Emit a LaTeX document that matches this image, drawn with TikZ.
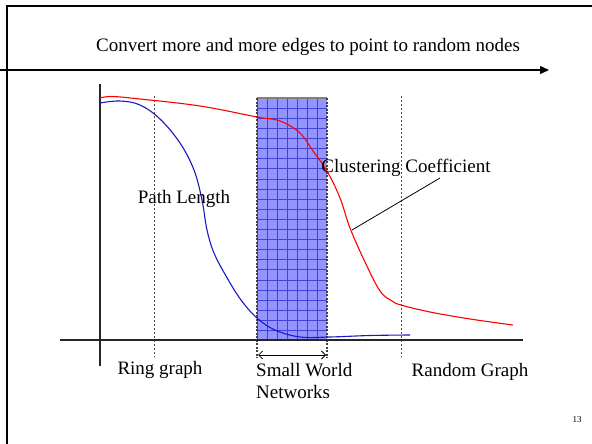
\documentclass[tikz,border=0pt]{standalone}
\usepackage{fontspec}
\setmainfont{Liberation Serif}
\usetikzlibrary{arrows.meta}
\begin{document}
\begin{tikzpicture}[x=1pt,y=-1pt,
  lbl/.style={inner sep=0pt,font=\fontsize{19}{22.5}\selectfont},
  axis/.style={line width=1.6pt,black!85},
  guide/.style={line width=0.8pt,black!70,dash pattern=on 2pt off 2pt},
  boxedge/.style={line width=1.2pt,black!75,dash pattern=on 2pt off 1.5pt},
  curve/.style={line width=1.1pt,smooth,tension=0.6}]
\useasboundingbox (0,0) rectangle (592,444);
\fill[white] (0,0) rectangle (592,444);
% slide frame
\draw[line width=2pt] (592,6) -- (7,6) -- (7,444);
% title and direction arrow
\node[lbl] (title) at (308,47) {Convert more and more edges to point to random nodes};
\coordinate (arrS) at (0,70);
\coordinate (arrE) at (549,70);
\draw[line width=1.3pt,-{Triangle[length=9pt,width=8pt]}] (arrS) -- (arrE);
% small-world region
\coordinate (bTL) at (257,98);
\coordinate (bBR) at (327,340);
\fill[blue!42!white] (bTL) rectangle (bBR);
\begin{scope}
\clip (bTL) rectangle (bBR);
\draw[blue!75!black,line width=0.45pt,opacity=0.55,xshift=257pt,yshift=-98pt] (0,0) grid[step=10.1pt] (70,242);
\end{scope}
\draw[gray,line width=1.2pt] (257,98) -- (327,98);
\draw[boxedge] (257,98) -- (257,358);
\draw[boxedge] (327,98) -- (327,358);
\coordinate (sw1) at (258,355);
\coordinate (sw2) at (326,355);
\draw[line width=0.8pt,{Straight Barb[length=4pt]}-{Straight Barb[length=4pt]}] (sw1) -- (sw2);
% guide lines
\draw[guide] (154,96) -- (154,357);
\draw[guide] (401,96) -- (401,357);
% axes
\coordinate (yTop) at (100,84);
\coordinate (yBot) at (100,366);
\coordinate (xL) at (60,340);
\coordinate (xR) at (523,340);
\draw[axis] (yTop) -- (yBot);
\draw[axis] (xL) -- (xR);
% clustering coefficient
\draw[curve,red] plot coordinates {(100,98) (112,96.5) (140,99) (200,106) (257,117) (280,121) (300,133) (313,151) (327,171) (340,198) (350,228) (365,262) (380,291) (392,301) (401,305) (430,312) (470,319) (513,325)};
% path length
\draw[curve,blue!75!black!90] plot coordinates {(100,103) (120,101) (140,105) (160,119) (180,143) (194,170) (202,200) (207,230) (214,253) (226,276) (241,300) (257,318) (275,330) (300,337) (330,337) (370,335.5) (410,335)};
% labels
\node[lbl] (pl) at (184,199) {Path Length};
\node[lbl] (cc) at (406,168) {Clustering Coefficient};
\coordinate (ccTip) at (352,230);
\draw[line width=0.8pt] (440,178) -- (ccTip);
\node[lbl] (ring) at (160,370) {Ring graph};
\node[lbl,anchor=west,align=left] (sw) at (256,381) {Small World\\Networks};
\node[lbl] (rand) at (470,372) {Random Graph};
\node[inner sep=0pt,font=\fontsize{9}{10}\selectfont] (pg) at (577,420) {13};
\end{tikzpicture}
\end{document}
